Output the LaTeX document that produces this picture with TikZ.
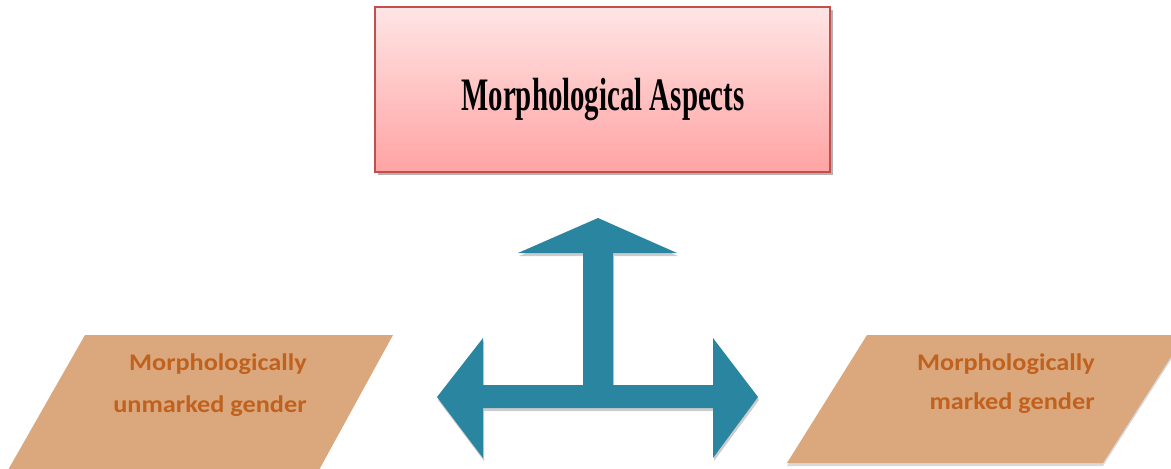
\documentclass[tikz,border=0pt]{standalone}
\usepackage{fontspec}
\usepackage{graphicx}
\newfontfamily\titlefont{Liberation Serif}
\newfontfamily\boxfont{Carlito}
\usetikzlibrary{positioning, calc, shapes}
\definecolor{boxred}{RGB}{192,80,77}
\definecolor{pinktop}{RGB}{255,229,229}
\definecolor{pinkbot}{RGB}{255,163,163}
\definecolor{arrowblue}{RGB}{42,134,160}
\definecolor{gendertan}{RGB}{219,168,126}
\definecolor{genderrust}{RGB}{192,98,30}

\begin{document}
\begin{tikzpicture}[x=0.02cm,y=-0.02cm]
  \tikzset{
    aspectbox/.style={draw=boxred, line width=0.8pt, top color=pinktop, bottom color=pinkbot,
      minimum width=9.1cm, minimum height=3.3cm, inner sep=0pt},
    gendertext/.style={font=\boxfont\bfseries\fontsize{13.6}{15}\selectfont, text=genderrust,
      anchor=base east, inner sep=0pt}
  }
  \clip (0,0) rectangle (1171,468);
  % top box
  \fill[black!30] (378,10) rectangle (833,175);
  \node[aspectbox] (aspectsbox) at (602.5,89.5) {};
  \node[font=\titlefont\bfseries\fontsize{26.5}{30}\selectfont, anchor=base, inner sep=0pt]
    (aspects) at (603,110) {\scalebox{0.62}[1]{Morphological Aspects}};
  % three-way arrow
  \fill[black!20, shift={(1,3)}] (598,218) -- (677,253) -- (613,253) -- (613,385) -- (713,385)
    -- (713,338) -- (758,397) -- (713,458) -- (713,408) -- (483,408) -- (483,458) -- (437,397)
    -- (483,338) -- (483,385) -- (583,385) -- (583,253) -- (518,253) -- cycle;
  \fill[arrowblue] (598,218) -- (677,253) -- (613,253) -- (613,385) -- (713,385)
    -- (713,338) -- (758,397) -- (713,458) -- (713,408) -- (483,408) -- (483,458) -- (437,397)
    -- (483,338) -- (483,385) -- (583,385) -- (583,253) -- (518,253) -- cycle;
  % gender boxes
  \fill[gendertan] (85,335) -- (393,335) -- (319,470) -- (8,470) -- cycle;
  \fill[black!15] (787,466) -- (867,338) -- (1185,338) -- (1103,466) -- cycle;
  \fill[gendertan] (867,335) -- (1185,335) -- (1103,463) -- (787,463) -- cycle;
  \foreach \nm/\x/\y/\txt in {unmarkedA/307/370/Morphologically, unmarkedB/307/412/unmarked gender,
                             markedA/1095/370/Morphologically, markedB/1095/409/marked gender} {
    \node[gendertext] (\nm) at (\x,\y) {\scalebox{1.1}[1]{\txt}};
  }
\end{tikzpicture}
\end{document}
